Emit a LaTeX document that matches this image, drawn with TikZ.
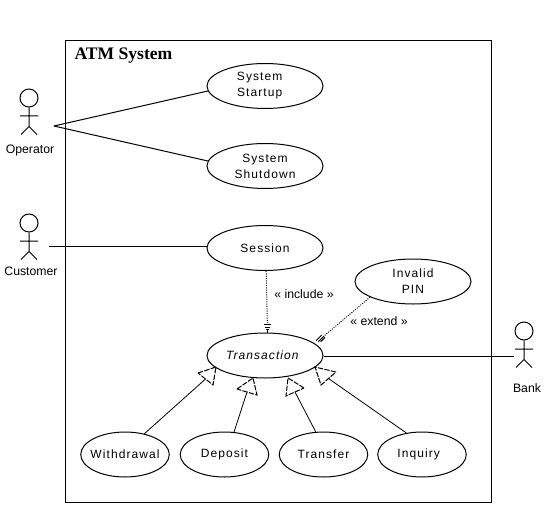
\documentclass[tikz,border=0pt]{standalone}
\usepackage{fontspec}
\setmainfont{Liberation Sans}
\newfontfamily\ucfont[LetterSpace=9]{Liberation Sans}
\newfontfamily\titlefont{Liberation Serif}
\usetikzlibrary{shapes.geometric}
\newcommand{\shiftL}[2][8pt]{#2\hspace*{#1}}
\begin{document}
\begin{tikzpicture}[x=0.75pt,y=-0.75pt,
  line width=0.75pt,
  usecase/.style={draw,ellipse,inner sep=-12pt,minimum width=87pt,minimum height=33.75pt,align=center,font=\ucfont\fontsize{9}{12}\selectfont},
  smallcase/.style={usecase,minimum width=66.4pt},
  actorlabel/.style={font=\fontsize{9.2}{10}\selectfont,inner sep=0pt},
  edgelabel/.style={font=\fontsize{9.2}{10}\selectfont,inner sep=0pt},
  dep/.style={densely dotted},
  tri/.style={fill=white,dash pattern=on 4pt off 1pt}]
\useasboundingbox (0,0) rectangle (556,531);
\node[draw,minimum width=319.5pt,minimum height=345.75pt,inner sep=0pt] (frame) at (278,271.5) {};
\node[anchor=west,inner sep=0pt,font=\titlefont\bfseries\fontsize{13.2}{14}\selectfont] (title) at (74,55.5) {ATM System};
%
\node[usecase] (startup) at (265,86) {\shiftL{System}\\\shiftL{Startup}};
\node[usecase] (shutdown) at (265,166) {System\\Shutdown};
\node[usecase] (session) at (265,248) {Session};
\node[usecase] (invalid) at (413,281.5) {Invalid\\PIN};
\node[usecase,font=\ucfont\itshape\fontsize{9}{12}\selectfont] (transaction) at (265,355.5) {Transaction\hspace*{4pt}};
\node[smallcase] (withdrawal) at (125,454.5) {Withdrawal};
\node[smallcase] (deposit) at (224.5,454.5) {Deposit};
\node[smallcase] (transfer) at (323.5,454.5) {Transfer};
\node[smallcase] (inquiry) at (422,454.5) {\shiftL[5pt]{Inquiry}};
%
\node[draw,circle,inner sep=0pt,minimum size=13.5pt] (ophead) at (29,98) {};
\node[draw,circle,inner sep=0pt,minimum size=13.5pt] (cuhead) at (29,223) {};
\node[draw,circle,inner sep=0pt,minimum size=13.5pt] (bahead) at (524,331) {};
\draw (ophead.south) -- ++(0,19) coordinate (ophip) -- ++(-8,8) (ophip) -- ++(8,8) (20,116) -- (38,116);
\draw (cuhead.south) -- ++(0,19) coordinate (cuhip) -- ++(-8,8) (cuhip) -- ++(8,8) (20,241) -- (38,241);
\draw (bahead.south) -- ++(0,19) coordinate (bahip) -- ++(-8,8) (bahip) -- ++(8,8) (515,349) -- (533,349);
\node[actorlabel] (oplabel) at (30,150.5) {Operator};
\node[actorlabel] (culabel) at (31,271.5) {Customer};
\node[actorlabel] (balabel) at (527,388) {Bank};
%
\coordinate (opend) at (54,126);
\coordinate (cuend) at (49,246);
\coordinate (baend) at (514,356);
\draw (opend) -- (startup.185);
\draw (opend) -- (shutdown.175);
\draw (cuend) -- (session.west |- cuend);
\draw (transaction.east |- baend) -- (baend);
%
\coordinate (incl) at (267.3,323);
\coordinate (extd) at (324,336);
\draw[dep] (session.-87) -- (incl);
\draw[dep] (invalid.200) -- (extd);
\draw (263.8,324.5) -- (270.8,324.5) (264.8,327) -- (269.8,327) (265.8,329.5) -- (268.8,329.5) (267.3,329.5) -- (267.3,332.5);
\draw (316,340.7) -- (321.7,335) (318.3,341.7) -- (324,336) (320.7,341.7) -- (325,337.3);
\node[edgelabel] (inclabel) at (304,294) {« include »};
\node[edgelabel] (extlabel) at (379,321) {« extend »};
%
\coordinate (wbase) at (205.5,379);
\coordinate (dbase) at (247,392);
\coordinate (tbase) at (295,392);
\coordinate (qbase) at (328.5,378.5);
\draw[line width=0.6pt] (withdrawal.47) -- (wbase);
\draw[line width=0.6pt] (deposit.67) -- (dbase);
\draw[line width=0.6pt] (transfer.109) -- (tbase);
\draw[line width=0.6pt] (inquiry.126) -- (qbase);
\draw[tri] (198,373) -- (216,367) -- (213,385) -- cycle;
\draw[tri] (237,389) -- (253,378) -- (257,395) -- cycle;
\draw[tri] (304,388) -- (288,378) -- (286,396) -- cycle;
\draw[tri] (336,372) -- (315,367) -- (321,385) -- cycle;
\end{tikzpicture}
\end{document}
